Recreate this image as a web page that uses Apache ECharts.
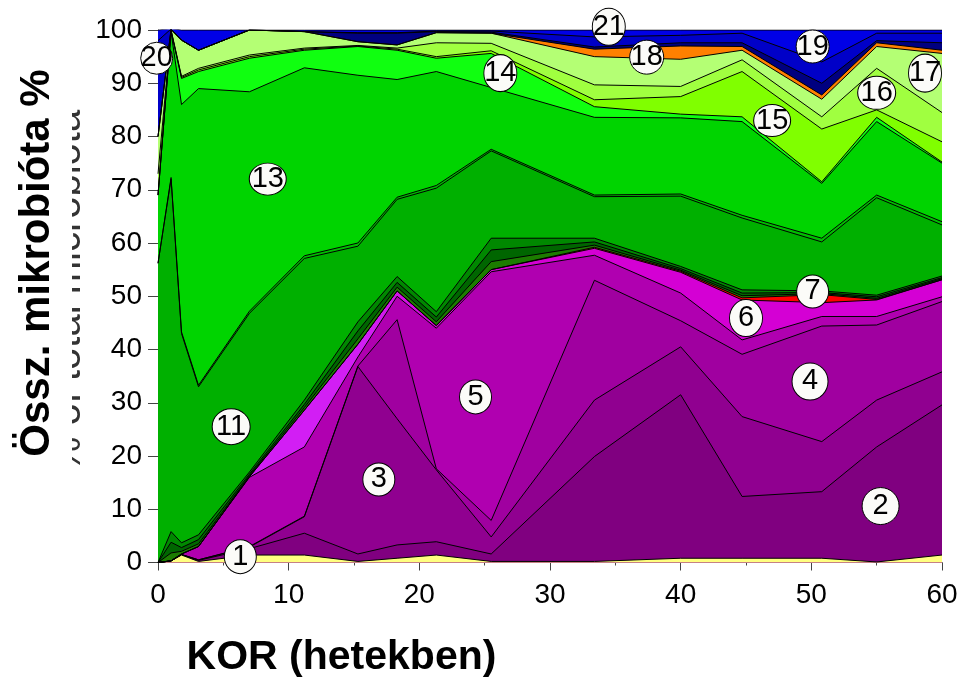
<!DOCTYPE html>
<html>
<head>
<meta charset="utf-8">
<script src="https://cdn.jsdelivr.net/npm/echarts@6/dist/echarts.min.js"></script>
<style>
  html, body { margin: 0; padding: 0; background: #fff; }
  #chart { width: 961px; height: 681px; }
</style>
</head>
<body>
<div id="chart"></div>
<script>
// weeks where the samples were taken
const weeks = [0, 1, 1.8, 3.1, 7, 11.2, 15.3, 18.3, 21.3, 25.5, 33.4, 40, 44.7, 50.8, 55, 60]

// share of each group (%), bottom layer first
const layer1 = [0, 0.3, 1.4, 0.2, 1.4, 1.4, 0.2, 0.8, 1.4, 0.2, 0.2, 0.8, 0.8, 0.8, 0.1, 1.4]
const layer2 = [0, 0, 0.1, 0.2, 1.2, 4.1, 1.4, 2.5, 2.5, 1.4, 19.7, 30.7, 11.6, 12.5, 21.6, 28.2]
const layer3 = [0, 0, 0, 0.1, 0.3, 3.1, 35.2, 23.7, 13.5, 3.2, 10.6, 9.0, 15.0, 9.4, 8.8, 6.2]
const layer4 = [0, 0, 0, 0, 0.1, 0.1, 0.1, 18.6, 0.2, 3.1, 22.5, 4.9, 11.7, 21.7, 14.1, 13.2]
const layer5 = [0, 0, 0.1, 2.5, 13.0, 13.0, 1.7, 4.4, 26.4, 46.7, 4.7, 5.2, 2.7, 1.8, 1.6, 0.9]
const layer6 = [0, 0, 0, 0, 0.1, 6.9, 2.4, 1.0, 0.5, 0.4, 1.3, 3.9, 7.5, 2.6, 3.1, 3.2]
const layer7 = [0, 0, 0, 0, 0, 0, 0, 0, 0, 0, 0.2, 0.2, 0.4, 1.5, 0.1, 0]
const layer8 = [0, 1.5, 0.5, 0.5, 0.2, 0.5, 1.0, 0.7, 0.7, 1.5, 0.4, 0.2, 0.4, 0.2, 0.2, 0.2]
const layer9 = [0, 2.0, 0.7, 0.8, 0.3, 0.6, 1.5, 0.9, 0.9, 2.2, 0.6, 0.3, 0.5, 0.2, 0.3, 0.2]
const layer10 = [0, 2.0, 0.9, 0.9, 0.4, 0.8, 1.7, 1.1, 1.0, 2.2, 0.7, 0.4, 0.6, 0.3, 0.3, 0.3]
const layer11 = [56.2, 66.2, 39.3, 27.8, 29.8, 26.6, 14.2, 14.5, 23.2, 16.4, 7.8, 13.2, 13.5, 9.2, 18.3, 9.6]
const layer12 = [0, 0.3, 0.3, 0.3, 0.4, 0.5, 0.6, 0.4, 0.5, 0.3, 0.3, 0.4, 0.5, 0.7, 0.5, 0.6]
const layer13 = [12.8, 27.3, 42.7, 55.7, 41.2, 35.3, 31.5, 22.1, 21.4, 11.6, 14.6, 14.3, 17.6, 10.3, 13.8, 11.0]
const layer14 = [0, 0.2, 4.9, 3.2, 6.3, 3.3, 5.4, 5.5, 2.5, 6.4, 2.0, 0.7, 0.9, 0.3, 0.8, 0.2]
const layer15 = [0, 0.1, 0.2, 0.3, 0.3, 0.2, 0.1, 0.2, 0.3, 0.5, 1.3, 3.3, 8.5, 9.9, 1.4, 3.8]
const layer16 = [4, 0.1, 0.2, 0.3, 0.3, 0.2, 0.1, 0.2, 2.6, 1.4, 2.8, 1.9, 2.2, 2.3, 7.8, 5.5]
const layer17 = [7, 0.1, 6.8, 3.4, 4.7, 3.1, 0.7, 0.6, 1.9, 1.9, 5.3, 5.1, 1.8, 3.3, 4.1, 11.1]
const layer18 = [0, 0, 0, 0, 0, 0, 0, 0, 0, 0, 1.4, 2.5, 0.7, 0.8, 0.7, 0.6]
const layer19 = [0, 0, 0, 0, 0, 0, 1.6, 2.2, 0.2, 0.2, 0.4, 0.6, 0.7, 2.2, 0.4, 1.4]
const layer20 = [18, 0.1, 0, 0, 0, 0, 0.1, 0.1, 0.1, 0.2, 1.9, 1.4, 1.8, 4.0, 1.4, 1.8]
const layer21 = [2, 0.1, 1.9, 3.8, 0, 0.3, 0.5, 0.5, 0.2, 0.2, 1.3, 1.0, 0.6, 6.0, 0.6, 0.6]

const yTicks = [0, 10, 20, 30, 40, 50, 60, 70, 80, 90, 100]
const xTicks = [0, 10, 20, 30, 40, 50, 60]

// numbered bubbles: name, week, percent
const labelNames = ['1', '2', '3', '4', '5', '6', '7', '11', '13', '14', '15', '16', '17', '18', '19', '20', '21']
const labelWeeks = [6.3, 55.3, 16.9, 49.9, 24.3, 45.0, 50.1, 5.6, 8.4, 26.2, 47.0, 55.0, 58.7, 37.4, 50.1, -0.1, 34.5]
const labelPcts = [1.1, 10.6, 15.6, 34.0, 31.1, 45.9, 50.9, 25.5, 72.0, 91.9, 83.0, 88.2, 91.9, 94.9, 96.9, 94.7, 100.6]

const layers = [layer1, layer2, layer3, layer4, layer5, layer6, layer7, layer8, layer9, layer10,
  layer11, layer12, layer13, layer14, layer15, layer16, layer17, layer18, layer19, layer20, layer21]

// layer 6 is violet on the left and magenta further right
const violetToMagenta = new echarts.graphic.LinearGradient(0, 0, 1, 0, [
  { offset: 0, color: '#d21ef4' },
  { offset: 0.27, color: '#d21ef4' },
  { offset: 0.36, color: '#d400d4' },
  { offset: 1, color: '#d400d4' }
])

const layerColors = ['#ffff80', '#800080', '#900090', '#a000a0', '#b000b0', violetToMagenta, '#ff0000',
  '#1c7c00', '#006600', '#008800', '#00b000', '#00bf00', '#00d400', '#10ff10', '#80ff00',
  '#a0ff40', '#b4ff74', '#ff8000', '#000080', '#0000c8', '#0000e6']
const bubbleSizes = [[32, 34], [37, 37], [32, 33], [36, 37], [32, 34], [33, 37], [32, 33], [38, 36],
  [37, 32], [33, 37], [37, 32], [38, 33], [33, 38], [34, 34], [33, 33], [32, 32], [33, 37]]

const FONT = '"Liberation Sans", Arial, sans-serif'

const chart = echarts.init(document.getElementById('chart'))

// stack the layers: running top of every layer
const tops = []
let running = weeks.map(() => 0)
layers.forEach(vals => {
  running = running.map((s, j) => s + vals[j])
  tops.push(running)
})

// draw from the top layer down, each filled to 0, so the lower ones cover the rest
const series = []
for (let i = layers.length - 1; i >= 0; i--) {
  series.push({
    name: String(i + 1),
    type: 'line',
    symbol: 'none',
    silent: true,
    data: weeks.map((w, j) => [w, +tops[i][j].toFixed(2)]),
    lineStyle: { color: '#000', width: 1 },
    areaStyle: { color: layerColors[i], opacity: 1, origin: 'start' },
    z: 2
  })
}

series.push({
  type: 'scatter',
  symbol: 'circle',
  clip: false,
  silent: true,
  z: 10,
  data: labelNames.map((n, i) => ({
    name: n,
    value: [labelWeeks[i], labelPcts[i]],
    symbolSize: bubbleSizes[i]
  })),
  itemStyle: { color: '#fbfbf8', borderColor: '#000', borderWidth: 1, opacity: 1 },
  label: {
    show: true,
    position: 'inside',
    formatter: '{b}',
    color: '#000',
    fontSize: 29,
    fontFamily: FONT
  }
})

chart.setOption({
  animation: false,
  grid: { left: 158, right: 19, top: 30, bottom: 118.5, containLabel: false },
  xAxis: {
    type: 'value',
    min: xTicks[0],
    max: xTicks[xTicks.length - 1],
    interval: 10,
    axisLine: { show: true, lineStyle: { color: '#444', width: 1 } },
    axisTick: { show: true, length: 8, lineStyle: { color: '#444' } },
    minorTick: { show: true, splitNumber: 2, length: 3, lineStyle: { color: '#444' } },
    splitLine: { show: false },
    axisLabel: { color: '#000', fontSize: 28, fontFamily: FONT, margin: 19 }
  },
  yAxis: {
    type: 'value',
    min: yTicks[0],
    max: yTicks[yTicks.length - 1],
    interval: 10,
    axisLine: { show: true, lineStyle: { color: '#444', width: 1 } },
    axisTick: { show: true, length: 10, lineStyle: { color: '#444' } },
    splitLine: { show: false },
    axisLabel: { color: '#000', fontSize: 28, fontFamily: FONT, margin: 16 }
  },
  graphic: [
    {
      type: 'text', x: 69, y: 291, rotation: Math.PI / 2, z: 1,
      style: { text: '% of total microbiota', font: '40px ' + FONT, fill: '#333', align: 'center', verticalAlign: 'middle' }
    },
    {
      type: 'rect', z: 2, shape: { x: 0, y: 90, width: 72, height: 400 },
      style: { fill: '#fff' }
    },
    {
      type: 'text', x: 37, y: 263, rotation: Math.PI / 2, z: 3,
      style: { text: 'Össz. mikrobióta %', font: 'bold 42px ' + FONT, fill: '#000', align: 'center', verticalAlign: 'middle' }
    },
    {
      type: 'text', x: 341.5, y: 657.5, z: 3,
      style: { text: 'KOR (hetekben)', font: 'bold 41px ' + FONT, fill: '#000', align: 'center', verticalAlign: 'middle' }
    }
  ],
  series: series
})
</script>
</body>
</html>
